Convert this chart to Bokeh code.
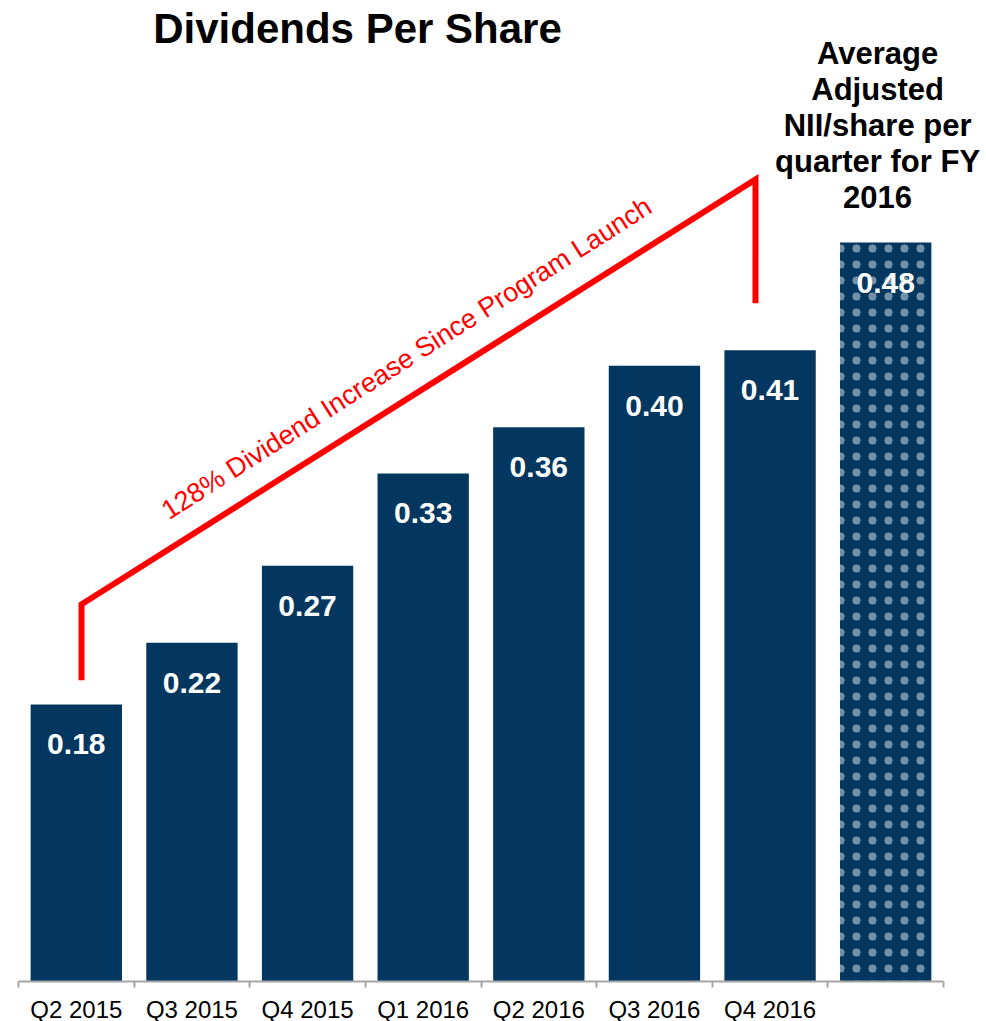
from bokeh.plotting import figure
from bokeh.models import FixedTicker, Range1d, Label
from bokeh.core.properties import value
from bokeh.embed import file_html
from bokeh.resources import INLINE

# ---- data ----
quarters = ["Q2 2015", "Q3 2015", "Q4 2015", "Q1 2016", "Q2 2016", "Q3 2016", "Q4 2016"]
dividends = [0.18, 0.22, 0.27, 0.33, 0.36, 0.40, 0.41]
avg_nii_fy2016 = 0.48
avg_lines = ["Average", "Adjusted", "NII/share per", "quarter for FY", "2016"]
title_text = "Dividends Per Share"
bracket_text = "128% Dividend Increase Since Program Launch"

# ---- style / layout ----
NAVY = "#03375F"
FONT = "Liberation Sans"
BAR_W = 0.79
SLOT_PX = 115.625
LEFT_PX, RIGHT_PX = 18, 43

n_slots = len(quarters) + 1
pos = [i + 0.5 for i in range(len(quarters))]
avg_pos = len(quarters) + 0.5

p = figure(frame_width=986, frame_height=973, output_backend="svg", toolbar_location=None,
           x_range=Range1d(-LEFT_PX / SLOT_PX, n_slots + RIGHT_PX / SLOT_PX),
           y_range=Range1d(0, 0.632),
           min_border_left=0, min_border_right=0, min_border_top=8, min_border_bottom=30,
           y_axis_location=None, background_fill_color="white", border_fill_color="white")
p.outline_line_color = None
p.xgrid.visible = False
p.ygrid.visible = False

# bars
p.vbar(x=pos, top=dividends, width=BAR_W, fill_color=NAVY, line_color=None)
p.vbar(x=[avg_pos], top=[avg_nii_fy2016], width=BAR_W, fill_color=NAVY, line_color=None,
       hatch_pattern="dot", hatch_color="#e6ecf2", hatch_scale=16, hatch_weight=0.2, hatch_alpha=0.5)

# value labels
all_pos = pos + [avg_pos]
all_vals = dividends + [avg_nii_fy2016]
p.text(x=all_pos, y=all_vals, text=[f"{v:.2f}" for v in all_vals], y_offset=40,
       text_align="center", text_baseline="middle", text_color="white",
       text_font=value(FONT), text_font_style="bold", text_font_size="30px")

# title
p.add_layout(Label(x=2.932, y=0.6192, text=title_text, text_align="center", text_baseline="middle",
                   text_color="black", text_font=FONT, text_font_style="bold", text_font_size="42px"))

# right annotation
top_y, step = 0.603, 36 / 1539
for i, line in enumerate(avg_lines):
    p.add_layout(Label(x=avg_pos - 0.07, y=top_y - i * step, text=line,
                       text_align="center", text_baseline="middle", text_color="black",
                       text_font=FONT, text_font_style="bold", text_font_size="31px"))

# bracket
bx = [0.545, 0.545, 6.374, 6.374]
by = [0.1956, 0.245, 0.521, 0.4405]
p.line(bx, by, line_color="#FF0000", line_width=6, line_join="miter")
p.add_layout(Label(x=3.356, y=0.4048, text=bracket_text, angle=32.5, angle_units="deg",
                   text_align="center", text_baseline="middle", text_color="#FF0000",
                   text_font=FONT, text_font_size="27px"))

# axis
ax = p.xaxis[0]
ax.bounds = (0, n_slots)
ax.ticker = FixedTicker(ticks=pos, minor_ticks=[float(i) for i in range(n_slots + 1)])
ax.major_label_overrides = {pos[i]: quarters[i] for i in range(len(quarters))}
ax.major_tick_out = 0
ax.major_tick_in = 0
ax.minor_tick_out = 6
ax.minor_tick_in = 0
ax.axis_line_color = "#A6A6A6"
ax.axis_line_width = 2
ax.minor_tick_line_color = "#A6A6A6"
ax.minor_tick_line_width = 2
ax.major_label_standoff = 8
ax.major_label_text_font = FONT
ax.major_label_text_font_size = "24px"
ax.major_label_text_color = "black"

open("out.html", "w").write(file_html(p, INLINE))
